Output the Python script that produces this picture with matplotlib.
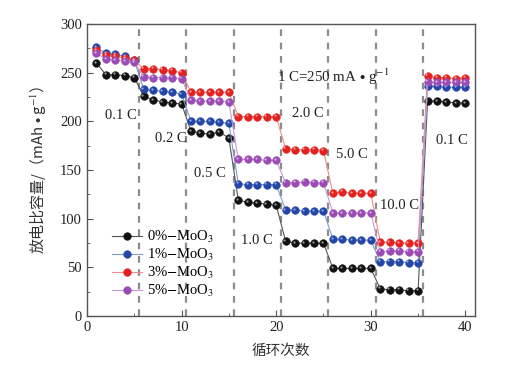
#!/usr/bin/env python3
"""Rate capability of MoO3-modified cathodes (discharge capacity vs cycle)."""

import matplotlib
matplotlib.use("Agg")
import matplotlib.pyplot as plt
from matplotlib.transforms import offset_copy

plt.rcParams["font.family"] = ["Liberation Serif", "Noto Sans CJK SC"]
plt.rcParams["mathtext.fontset"] = "stix"

cycles = list(range(1, 41))

cap_0 = [260, 248, 248, 247, 245,
         226, 222, 220, 219, 218,
         190, 188, 187, 189, 183,
         119, 117, 116, 115, 114,
         77, 75, 75, 75, 75,
         49, 49, 49, 49, 49,
         28, 27, 27, 26, 26,
         221, 221, 220, 219, 219]
cap_1 = [276, 270, 269, 267, 263,
         233, 232, 231, 230, 228,
         200, 200, 200, 199, 198,
         136, 135, 135, 135, 135,
         109, 109, 108, 108, 108,
         79, 79, 78, 78, 78,
         56, 56, 56, 55, 55,
         236, 236, 235, 235, 235]
cap_3 = [273, 268, 267, 265, 263,
         254, 254, 253, 252, 250,
         230, 230, 230, 230, 230,
         205, 205, 205, 205, 205,
         172, 171, 171, 171, 170,
         126, 128, 126, 126, 126,
         76, 76, 75, 75, 75,
         247, 245, 245, 244, 245]
cap_5 = [270, 264, 263, 262, 261,
         246, 245, 245, 245, 244,
         222, 221, 221, 221, 220,
         161, 161, 161, 160, 160,
         137, 137, 138, 137, 137,
         106, 106, 106, 106, 106,
         66, 67, 67, 66, 66,
         241, 240, 240, 240, 240]

series_labels = ["0%$-$MoO$_3$", "1%$-$MoO$_3$", "3%$-$MoO$_3$", "5%$-$MoO$_3$"]
rate_boundaries = [5.5, 10.5, 15.5, 20.5, 25.5, 30.5, 35.5]
rate_labels = ["0.1 C", "0.2 C", "0.5 C", "1.0 C", "2.0 C", "5.0 C", "10.0 C", "0.1 C"]
rate_label_pos = [(3.6, 206), (8.9, 182), (13.0, 147), (18.0, 78),
                  (23.3, 208), (28.0, 166), (33.0, 114), (38.6, 180)]

styles = [
    ("#111111", "#555555", "#9a9a9a"),
    ("#2446a6", "#7f9ad0", "#8fa8e8"),
    ("#e3211f", "#f08a88", "#ff9c9a"),
    ("#9a4cb4", "#c79ad6", "#d9aee6"),
]

fig = plt.figure(figsize=(5.30, 3.65), dpi=100)
ax = fig.add_axes([0.164, 0.134, 0.732, 0.800])

for xb in rate_boundaries:
    ax.axvline(xb, color="#8c8c8c", lw=1.6, ls=(0, (3, 3)), zorder=1)

for vals, lab, (mc, lc, hc) in zip([cap_0, cap_1, cap_3, cap_5], series_labels, styles):
    ax.plot(cycles, vals, color=lc, lw=0.8, marker="o", ms=5.6,
            mfc=mc, mec=mc, mew=0.3, label=lab, zorder=3)
    hl = offset_copy(ax.transData, fig=fig, x=-0.9, y=1.0, units="points")
    ax.plot(cycles, vals, ls="none", marker="o", ms=1.6, mfc=hc, mec="none",
            transform=hl, zorder=4)

for txt, (x, y) in zip(rate_labels, rate_label_pos):
    ax.text(x, y, txt, ha="center", va="center", fontsize=10.5, color="#222222")
ax.text(20.1, 246, r"1 C=250 mA $\bullet$ g$^{-1}$", ha="left", va="center",
        fontsize=10.8, color="#222222")

ax.set_xlim(0, 41)
ax.set_ylim(0, 300)
ax.set_xticks([0, 10, 20, 30, 40])
ax.set_xticks([5, 15, 25, 35], minor=True)
ax.set_yticks([0, 50, 100, 150, 200, 250, 300])
ax.set_yticks([25, 75, 125, 175, 225, 275], minor=True)
ax.tick_params(direction="in", length=4, width=0.8, colors="#555555",
               labelcolor="#222222", labelsize=10.5)
ax.tick_params(which="minor", direction="in", length=2.5, width=0.6, colors="#555555")
for sp in ax.spines.values():
    sp.set_color("#555555")
    sp.set_linewidth(1.0)

ax.set_xlabel("循环次数", fontsize=10.5, color="#333333", labelpad=7,
              family=["Noto Sans CJK SC", "Liberation Serif"])
ax.set_ylabel(r"放电比容量/（mAh $\bullet$ g$^{-1}$）", fontsize=10.8, color="#333333",
              labelpad=9, family=["Noto Sans CJK SC", "Liberation Serif"])

leg = ax.legend(loc="lower left", bbox_to_anchor=(0.03, 0.012), frameon=False,
                fontsize=10.5, handlelength=2.1, handletextpad=0.3, labelspacing=0.14)

fig.savefig("out.png", dpi=100)
